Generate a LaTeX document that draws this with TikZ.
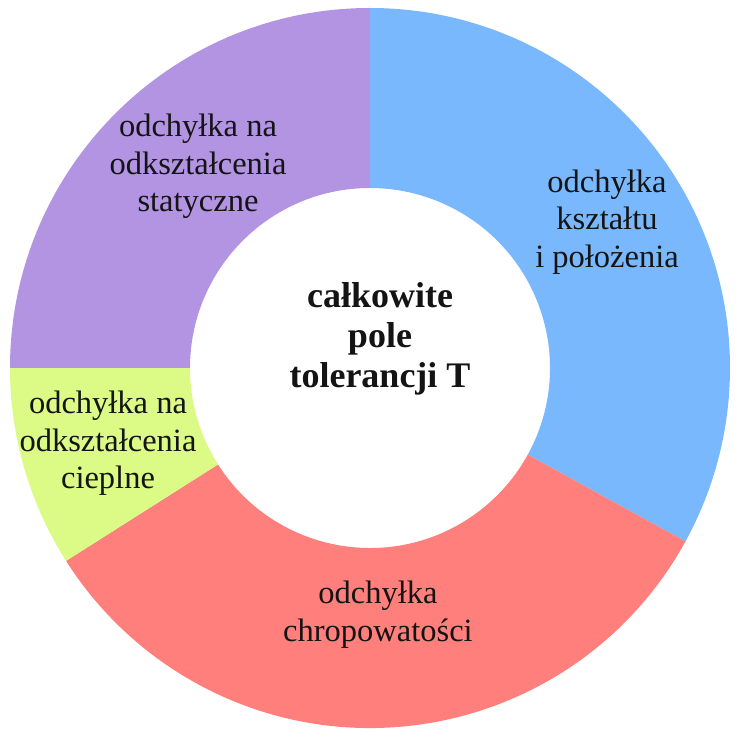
\documentclass[tikz,border=0pt]{standalone}
\usepackage{fontspec}
\setmainfont{Liberation Serif}
\definecolor{cblue}{HTML}{7AB8FE}
\definecolor{cred}{HTML}{FF7F7C}
\definecolor{cgreen}{HTML}{DCFA86}
\definecolor{cpurple}{HTML}{B394E3}
\definecolor{ctext}{HTML}{141414}
\tikzset{
  lbl/.style={inner sep=0pt, align=center, text=ctext, font=\fontsize{32.5}{37.5}\selectfont},
  ctr/.style={inner sep=0pt, align=center, text=ctext, font=\fontsize{36}{40}\selectfont\bfseries},
}
\newcommand{\donutslice}[3]{%
  \fill[#3] (#1:360pt) arc[start angle=#1, end angle=#2, radius=360pt]
    -- (#2:180pt) arc[start angle=#2, end angle=#1, radius=180pt] -- cycle;}
\begin{document}
\begin{tikzpicture}
\useasboundingbox (-370pt,-373pt) rectangle (376pt,368pt);
\donutslice{90}{-28.8}{cblue}
\donutslice{-28.8}{-147.6}{cred}
\donutslice{-147.6}{-180}{cgreen}
\donutslice{180}{90}{cpurple}
\node[lbl] (blue) at (237pt,146pt) {odchyłka\\kształtu\\i położenia};
\node[lbl] (red) at (8pt,-246.5pt) {odchyłka\\chropowatości};
\node[lbl] (green) at (-262pt,-75.5pt) {odchyłka na\\odkształcenia\\cieplne};
\node[lbl] (purple) at (-172pt,201.5pt) {odchyłka na\\odkształcenia\\statyczne};
\node[ctr] (center) at (10pt,29pt) {całkowite\\pole\\tolerancji T};
\end{tikzpicture}
\end{document}
